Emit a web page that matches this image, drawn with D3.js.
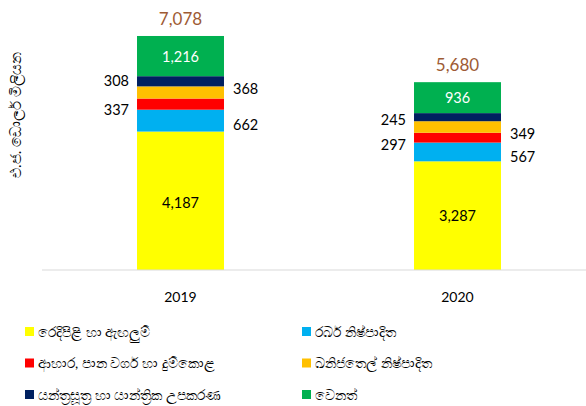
<!DOCTYPE html>
<html>
<head>
<meta charset="utf-8">
<script src="https://cdn.jsdelivr.net/npm/d3@7"></script>
<style>
  body { margin: 0; background: #fff; }
  svg text { font-family: Lato, "Open Sans", sans-serif; }
</style>
</head>
<body>
<svg id="chart" width="586" height="406"></svg>
<script>
// data
const years = ['2019', '2020'];
const seriesNames = ['රෙදිපිළි හා ඇඟලුම්', 'රබර් නිෂ්පාදිත', 'ආහාර, පාන වර්ග හා දුම්කොළ',
  'ඛනිජතෙල් නිෂ්පාදිත', 'යන්ත්‍රසූත්‍ර හා යාන්ත්‍රික උපකරණ', 'වෙනත්'];
const textiles = [4187, 3287];
const rubber = [662, 567];
const food = [337, 297];
const petroleum = [368, 349];
const machinery = [308, 245];
const other = [1216, 936];
const totals = ['7,078', '5,680'];
const yTitle = 'එ.ජ. ඩොලර් මිලියන';

const colors = ['#FFFF00', '#00B0F0', '#FF0000', '#FFC000', '#002060', '#00B050'];
// where each label sits: inside, right or left of the bar (plus small hand nudges, per year)
const labelSide = ['in', 'right', 'left', 'right', 'left', 'in'];
const labelNudge = [[2, 0], [4, 5], [6, 7], [-4, 7], [0, 3], [1, 0]];

const allSeries = [textiles, rubber, food, petroleum, machinery, other];
let rows = years.map(function(y, i){
    let r = {year: y};
    allSeries.forEach(function(s, k){ r['s' + k] = s[i]; });
    return r;
});
const keys = allSeries.map((s, k) => 's' + k);
const stacked = d3.stack().keys(keys)(rows);

const svg = d3.select('#chart');

const x = d3.scaleBand().domain(years).range([42, 596]).paddingInner(0.686).paddingOuter(0.343);
const y = d3.scaleLinear().domain([0, 8000]).range([270, 5.5]);

// bars
const layer = svg.selectAll('g.layer')
    .data(stacked)
    .enter()
    .append('g')
    .attr('class', 'layer')
    .attr('fill', (d, k) => colors[k]);

layer.selectAll('rect')
    .data(d => d)
    .enter()
    .append('rect')
    .attr('x', d => x(d.data.year))
    .attr('width', x.bandwidth())
    .attr('y', d => y(d[1]))
    .attr('height', d => y(d[0]) - y(d[1]));

// axis line
svg.append('line')
    .attr('x1', 42).attr('x2', 586)
    .attr('y1', y(0)).attr('y2', y(0))
    .attr('stroke', '#d9d9d9')
    .attr('stroke-width', 1);

// segment labels
stacked.forEach(function(layerData, k){
    layerData.forEach(function(d, i){
        let mid = (y(d[0]) + y(d[1])) / 2 + labelNudge[k][i];
        let side = labelSide[k];
        let tx, anchor;
        if (side === 'in'){ tx = x(d.data.year) + x.bandwidth() / 2; anchor = 'middle'; }
        else if (side === 'right'){ tx = x(d.data.year) + x.bandwidth() + 9; anchor = 'start'; }
        else { tx = x(d.data.year) - 8; anchor = 'end'; }
        svg.append('text')
            .attr('x', tx)
            .attr('y', mid)
            .attr('dy', '0.35em')
            .attr('text-anchor', anchor)
            .attr('font-size', 14.5)
            .attr('fill', k === 5 ? '#ffffff' : '#000000')
            .text(d3.format(',')(d[1] - d[0]));
    });
});

// totals
svg.selectAll('text.total')
    .data(years)
    .enter()
    .append('text')
    .attr('class', 'total')
    .attr('x', d => x(d) + x.bandwidth() / 2)
    .attr('y', (d, i) => y(d3.sum(allSeries, s => s[i])) - 17)
    .attr('dy', '0.35em')
    .attr('text-anchor', 'middle')
    .attr('font-size', 17)
    .attr('fill', '#9e5b34')
    .text((d, i) => totals[i]);

// x labels
svg.selectAll('text.xlab')
    .data(years)
    .enter()
    .append('text')
    .attr('class', 'xlab')
    .attr('x', d => x(d) + x.bandwidth() / 2)
    .attr('y', 297)
    .attr('dy', '0.35em')
    .attr('text-anchor', 'middle')
    .attr('font-size', 14)
    .attr('fill', '#000')
    .text(d => d);

// y title
svg.append('text')
    .attr('transform', 'translate(16,115) rotate(-90)')
    .attr('text-anchor', 'middle')
    .attr('dy', '0.35em')
    .attr('font-size', 15)
    .attr('fill', '#000')
    .text(yTitle);

// legend
const legend = svg.selectAll('g.legend')
    .data(seriesNames)
    .enter()
    .append('g')
    .attr('class', 'legend')
    .attr('transform', (d, i) => `translate(${i % 2 === 0 ? 25 : 302},${332 + Math.floor(i / 2) * 31.5})`);

legend.append('rect')
    .attr('x', 0).attr('y', -5)
    .attr('width', 9).attr('height', 9)
    .attr('fill', (d, i) => colors[i]);

legend.append('text')
    .attr('x', 13)
    .attr('dy', '0.35em')
    .attr('font-size', 14)
    .attr('fill', '#000')
    .text(d => d);
</script>
</body>
</html>
